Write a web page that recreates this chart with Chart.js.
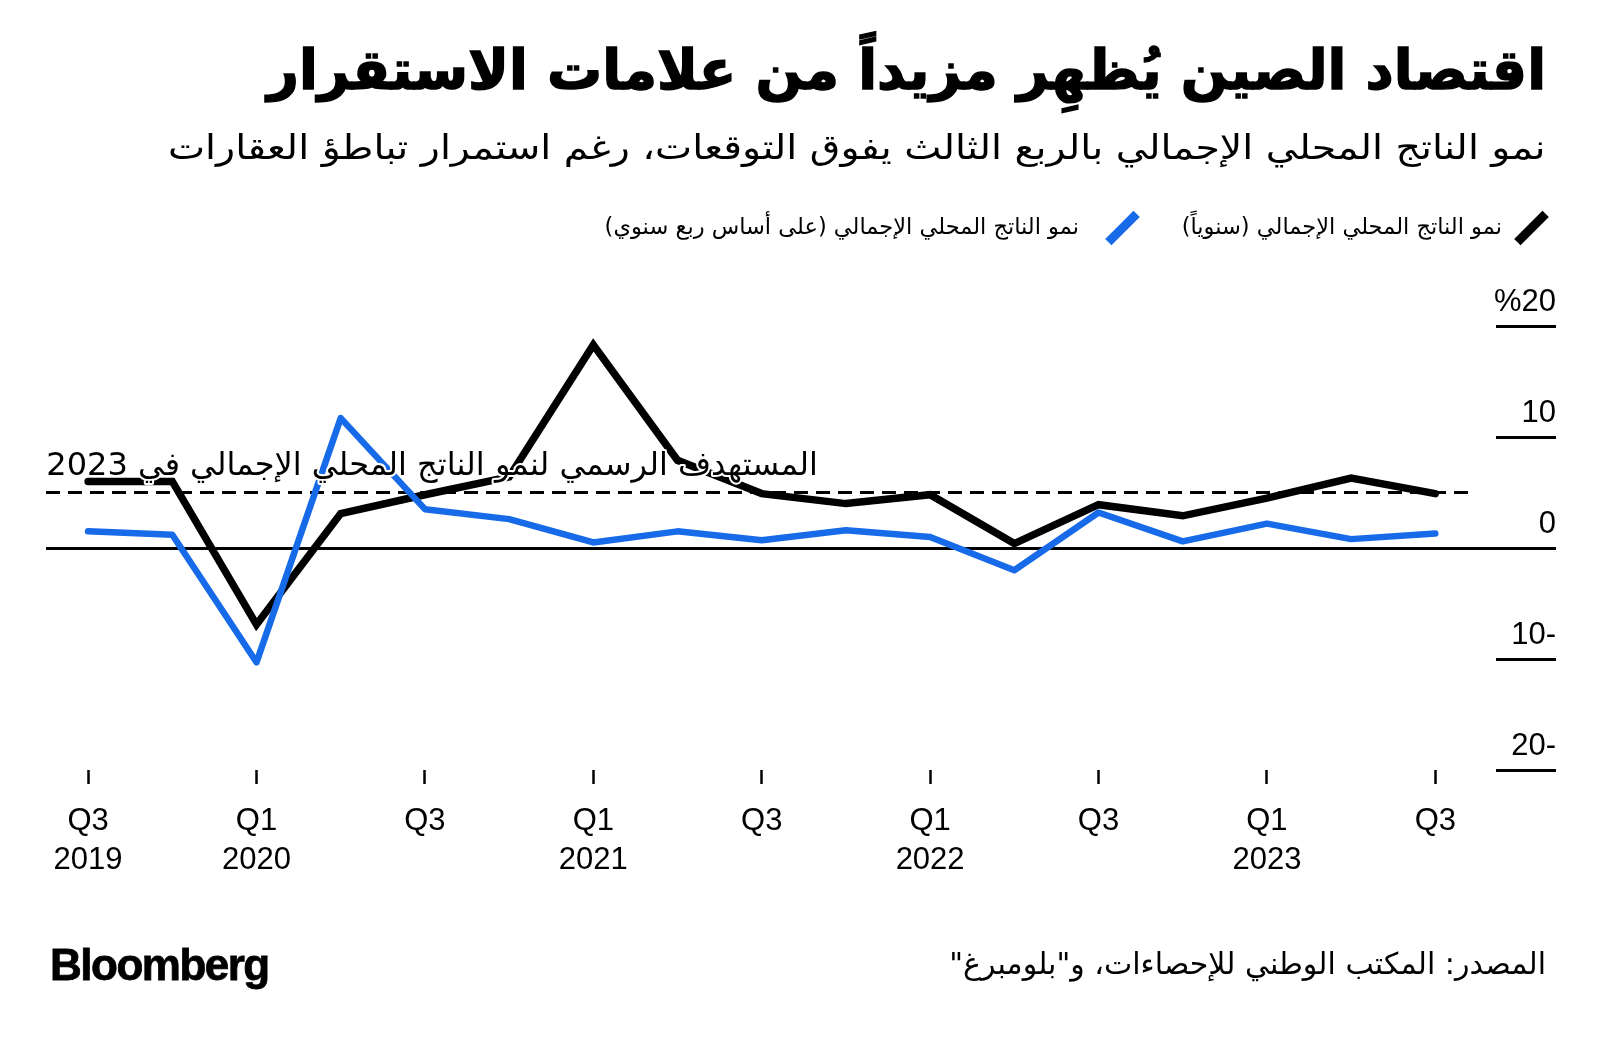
<!DOCTYPE html>
<html lang="ar">
<head>
<meta charset="utf-8">
<script src="https://cdn.jsdelivr.net/npm/chart.js@4"></script>
<style>
  html, body { margin: 0; padding: 0; background: #fff; }
  body { width: 1600px; height: 1043px; position: relative; overflow: hidden; font-family: "DejaVu Sans", sans-serif; color: #000; }
  .txt { position: absolute; direction: rtl; white-space: nowrap; transform-origin: right center; }
  #title { right: 54px; top: 38px; font-size: 55px; font-weight: bold; -webkit-text-stroke: 1.5px #000; }
  #subtitle { right: 54px; top: 127px; font-size: 34px; transform: scaleX(1.16); }
  .legend { position: absolute; top: 213px; height: 32px; direction: rtl; font-size: 22.5px; white-space: nowrap; }
  .legend .sw { position: absolute; width: 9px; height: 40px; transform: rotate(45deg); top: -5px; }
  #foot-logo { position: absolute; left: 50px; top: 940px; font-family: "Liberation Sans", Arial, sans-serif; font-weight: bold; font-size: 44px; letter-spacing: -1.5px; -webkit-text-stroke: 0.8px #000; }
  #source { right: 54px; top: 946px; font-size: 30px; }
  #chart { position: absolute; left: 0; top: 0; }
</style>
</head>
<body>
<canvas id="chart" width="1600" height="1043"></canvas>
<div class="txt" id="title">اقتصاد الصين يُظهِر مزيداً من علامات الاستقرار</div>
<div class="txt" id="subtitle">نمو الناتج المحلي الإجمالي بالربع الثالث يفوق التوقعات، رغم استمرار تباطؤ العقارات</div>
<div class="legend" style="right:98px;"><span id="lg1"></span></div>
<div class="legend" style="right:521px;"><span id="lg2"></span></div>
<div class="legend" style="left:1513px;width:40px;"><div class="sw" style="background:#000;left:14px;"></div></div>
<div class="legend" style="left:1104px;width:40px;"><div class="sw" style="background:#176be8;left:14px;"></div></div>
<div id="foot-logo">Bloomberg</div>
<div class="txt" id="source">المصدر: المكتب الوطني للإحصاءات، و"بلومبرغ"</div>
<script>
// chart data
const quarters = ['Q3 2019', 'Q4 2019', 'Q1 2020', 'Q2 2020', 'Q3 2020', 'Q4 2020', 'Q1 2021', 'Q2 2021',
  'Q3 2021', 'Q4 2021', 'Q1 2022', 'Q2 2022', 'Q3 2022', 'Q4 2022', 'Q1 2023', 'Q2 2023', 'Q3 2023'];
const gdpYoY = [6.0, 6.0, -6.9, 3.1, 4.8, 6.4, 18.3, 7.9, 4.9, 4.0, 4.8, 0.4, 3.9, 2.9, 4.5, 6.3, 4.9];
const gdpQoQ = [1.5, 1.2, -10.3, 11.7, 3.5, 2.6, 0.5, 1.5, 0.7, 1.6, 1.0, -2.0, 3.2, 0.6, 2.2, 0.8, 1.3];
const yTicks = [20, 10, 0, -10, -20];
const xTickIdx = [0, 2, 4, 6, 8, 10, 12, 14, 16];
const targetGrowth = 5;

const seriesNames = ['نمو الناتج المحلي الإجمالي (سنوياً)', 'نمو الناتج المحلي الإجمالي (على أساس ربع سنوي)'];
const targetLabel = 'المستهدف الرسمي لنمو الناتج المحلي الإجمالي في 2023';

document.getElementById('lg1').textContent = seriesNames[0];
document.getElementById('lg2').textContent = seriesNames[1];

const blue = '#176be8';
const numFont = '"Liberation Sans", Arial, sans-serif';

// x label: quarter on top, year under it only for first point and Q1s
function xLabel(i) {
  const parts = quarters[i].split(' ');
  if (i === 0 || parts[0] === 'Q1') return [parts[0], parts[1]];
  return [parts[0]];
}

function yLabel(v) {
  if (v === 20) return '%20';
  if (v < 0) return Math.abs(v) + '-';
  return String(v);
}

// extra drawing: right tick bars, zero line, target dash line and its label
const decor = {
  id: 'decor',
  beforeDatasetsDraw(chart) {
    const { ctx, chartArea, scales } = chart;
    const y = scales.y;
    ctx.save();
    ctx.strokeStyle = '#000';
    ctx.lineWidth = 3;
    yTicks.forEach(v => {
      const py = Math.round(y.getPixelForValue(v)) + 0.5;
      ctx.beginPath();
      ctx.moveTo(v === 0 ? chartArea.left : 1496, py);
      ctx.lineTo(1556, py);
      ctx.stroke();
    });
    const ty = y.getPixelForValue(targetGrowth);
    ctx.setLineDash([14, 8]);
    ctx.beginPath();
    ctx.moveTo(chartArea.left, ty);
    ctx.lineTo(chartArea.right, ty);
    ctx.stroke();
    ctx.restore();
  },
  afterDatasetsDraw(chart) {
    const { ctx, scales } = chart;
    const ty = scales.y.getPixelForValue(targetGrowth);
    ctx.save();
    ctx.direction = 'rtl';
    ctx.textAlign = 'right';
    ctx.textBaseline = 'alphabetic';
    ctx.font = '32px "DejaVu Sans", sans-serif';
    ctx.lineJoin = 'round';
    ctx.strokeStyle = '#fff';
    ctx.lineWidth = 4;
    ctx.strokeText(targetLabel, 818, ty - 18);
    ctx.fillStyle = '#000';
    ctx.fillText(targetLabel, 818, ty - 18);
    ctx.restore();
  }
};

new Chart(document.getElementById('chart'), {
  type: 'line',
  data: {
    datasets: [
      {
        label: seriesNames[1],
        data: gdpQoQ.map((v, i) => ({ x: i, y: v })),
        borderColor: blue,
        borderWidth: 6.5,
        pointRadius: 0,
        tension: 0,
        borderCapStyle: 'round',
        borderJoinStyle: 'round'
      },
      {
        label: seriesNames[0],
        data: gdpYoY.map((v, i) => ({ x: i, y: v })),
        borderColor: '#000',
        borderWidth: 7.5,
        pointRadius: 0,
        tension: 0,
        borderCapStyle: 'round',
        borderJoinStyle: 'miter'
      }
    ]
  },
  options: {
    responsive: false,
    animation: false,
    layout: { padding: { left: 46, top: 326, right: 44, bottom: 0 } },
    plugins: { legend: { display: false }, tooltip: { enabled: false } },
    scales: {
      x: {
        type: 'linear',
        min: -0.5,
        max: 16.4,
        afterBuildTicks(scale) { scale.ticks = xTickIdx.map(v => ({ value: v })); },
        afterFit(scale) { scale.height = 1043 - 770; },
        grid: { drawOnChartArea: false, drawTicks: true, tickLength: 14, tickWidth: 2.5, tickColor: '#000' },
        border: { display: false },
        ticks: {
          autoSkip: false,
          maxRotation: 0,
          padding: 18,
          color: '#000',
          font: { family: numFont, size: 31, lineHeight: 1.25 },
          callback: v => xLabel(v)
        }
      },
      y: {
        position: 'right',
        min: -20,
        max: 20,
        afterBuildTicks(scale) { scale.ticks = yTicks.map(v => ({ value: v })); },
        afterFit(scale) { scale.width = 1556 - 1469; },
        grid: { display: false },
        border: { display: false },
        ticks: {
          crossAlign: 'far',
          labelOffset: -24,
          color: '#000',
          font: { family: numFont, size: 31 },
          callback: v => yLabel(v)
        }
      }
    }
  },
  plugins: [decor]
});
</script>
</body>
</html>
